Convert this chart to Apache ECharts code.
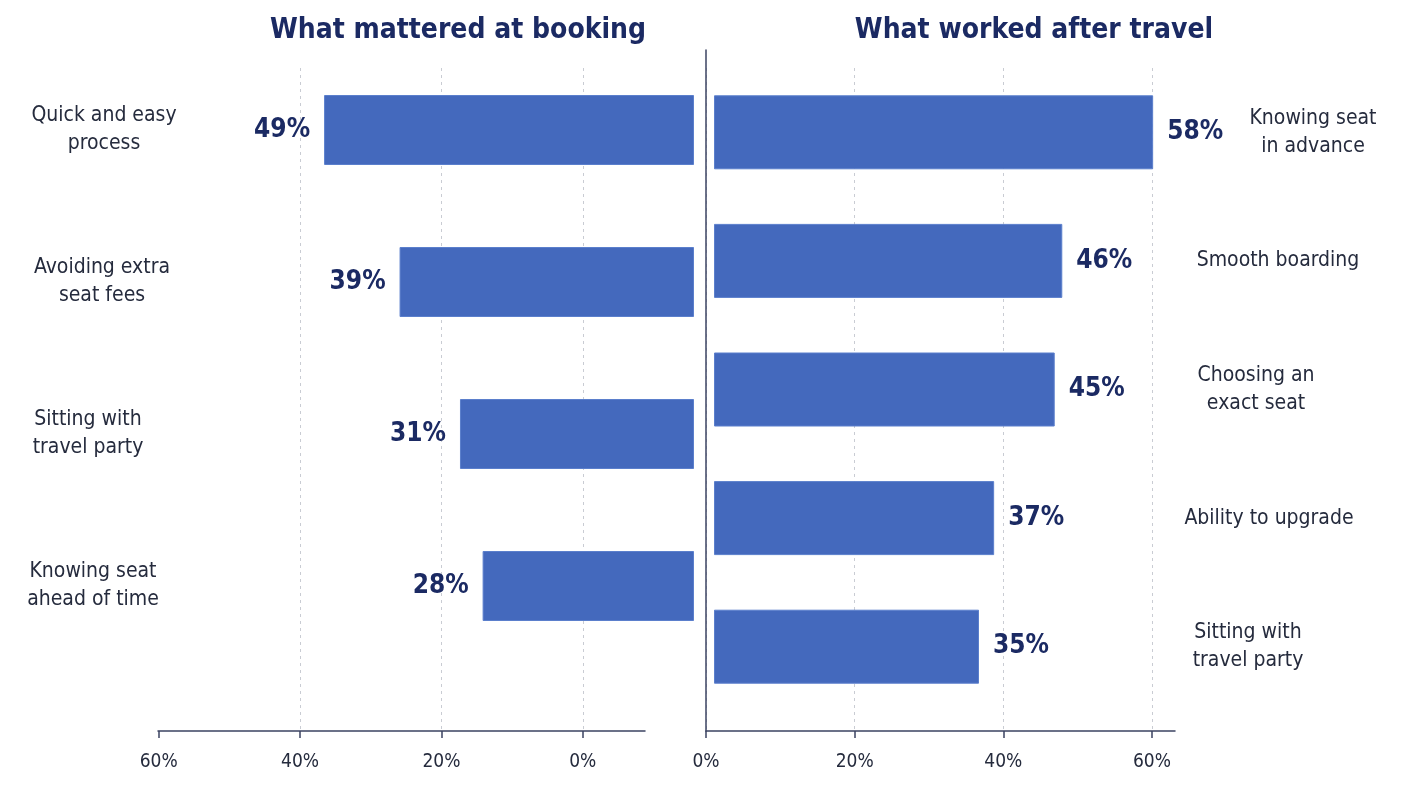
<!DOCTYPE html>
<html>
<head>
<meta charset="utf-8">
<title>Seat selection: booking vs after travel</title>
<script src="https://cdn.jsdelivr.net/npm/echarts@6/dist/echarts.min.js"></script>
<style>
    html, body { margin: 0; padding: 0; background: #fff; }
    #chart { width: 1404px; height: 800px; }
</style>
</head>
<body>
<div id="chart"></div>
<script>
// left panel: what mattered at booking
const bookingCategories = ['Quick and easy\nprocess', 'Avoiding extra\nseat fees', 'Sitting with\ntravel party', 'Knowing seat\nahead of time'];
const bookingValues = [49, 39, 31, 28];

// right panel: what worked after travel
const travelCategories = ['Knowing seat\nin advance', 'Smooth boarding', 'Choosing an\nexact seat', 'Ability to upgrade', 'Sitting with\ntravel party'];
const travelValues = [58, 46, 45, 37, 35];

const axisTicks = [0, 20, 40, 60];
const leftGridTicks = [0, 20, 40];   // left panel has no gridline at 60%

const barColor = '#4469bd';
const navy = '#1b2a63';
const textColor = '#252b3d';
const lineColor = '#3b4362';
const font = '"DejaVu Sans Condensed", "Liberation Sans", sans-serif';

// small horizontal nudges so each category label sits where it does in the source
const bookingNudge = [32, 28, 0, 10];
const travelNudge = [130, 60, 16, 42, 0];

function nudged(cats, nudge) {
    return cats.map((c, i) => ({
        value: c,
        textStyle: { align: 'center', padding: [0, 0, 0, nudge[i]] }
    }));
}

const chart = echarts.init(document.getElementById('chart'));

const valueLabel = (pos) => ({
    show: true,
    position: pos,
    distance: 14,
    formatter: '{c}%',
    color: navy,
    fontFamily: font,
    fontWeight: 'bold',
    fontSize: 26
});

const titleStyle = { color: navy, fontFamily: font, fontWeight: 'bold', fontSize: 28 };
const catLabel = { color: textColor, fontFamily: font, fontSize: 21, lineHeight: 28 };
const tickLabel = { customValues: axisTicks, formatter: '{value}%', color: textColor, fontFamily: font, fontSize: 19, margin: 22 };
const gridLine = { show: true, lineStyle: { color: '#c9ccd3', type: [3, 4], width: 1 } };
const axisStroke = { color: lineColor, width: 1.5 };

const option = {
    animation: false,
    backgroundColor: '#ffffff',
    title: [
        { text: 'What mattered at booking', left: 453, top: 12, textAlign: 'center', textStyle: titleStyle },
        { text: 'What worked after travel', left: 1029, top: 12, textAlign: 'center', textStyle: titleStyle }
    ],
    grid: [
        { left: 158, right: 710, top: 54, bottom: 138, outerBoundsMode: 'none' },   // left bars
        { left: 158, right: 759, top: 68, bottom: 69, outerBoundsMode: 'none' },    // left axis
        { left: 714, right: 213, top: 68, bottom: 89, outerBoundsMode: 'none' },    // right bars
        { left: 706, right: 229, top: 68, bottom: 69, outerBoundsMode: 'none' },    // right axis
        { left: 706, right: 229, top: 50, bottom: 69, outerBoundsMode: 'none' }     // centre divider
    ],
    xAxis: [
        { gridIndex: 0, type: 'value', inverse: true, min: 0, max: 71, show: false },
        {
            gridIndex: 1, type: 'value', inverse: true, min: -8.8, max: 60.1, position: 'bottom',
            axisLine: { show: true, lineStyle: axisStroke },
            axisTick: { show: true, customValues: axisTicks, length: 7, lineStyle: axisStroke },
            axisLabel: tickLabel,
            splitLine: { show: false }
        },
        {
            gridIndex: 1, type: 'value', inverse: true, min: -8.8, max: 60.1, position: 'bottom',
            axisLine: { show: false },
            axisTick: { show: false, customValues: leftGridTicks },
            axisLabel: { show: false },
            splitLine: gridLine
        },
        { gridIndex: 2, type: 'value', min: 0, max: 63, show: false },
        {
            gridIndex: 3, type: 'value', min: 0, max: 63.1,
            axisLine: { show: true, lineStyle: axisStroke },
            axisTick: { show: true, customValues: axisTicks, length: 7, lineStyle: axisStroke },
            axisLabel: tickLabel,
            splitLine: gridLine
        },
        { gridIndex: 4, type: 'value', min: 0, max: 63.1, show: false }
    ],
    yAxis: [
        {
            gridIndex: 0, type: 'category', inverse: true, data: nudged(bookingCategories, bookingNudge),
            axisLine: { show: false }, axisTick: { show: false },
            axisLabel: Object.assign({ align: 'center', margin: 70 }, catLabel)
        },
        { gridIndex: 1, type: 'value', show: false },
        {
            gridIndex: 2, type: 'category', inverse: true, position: 'right', data: nudged(travelCategories, travelNudge),
            axisLine: { show: false }, axisTick: { show: false },
            axisLabel: Object.assign({ align: 'center', margin: 57 }, catLabel)
        },
        { gridIndex: 3, type: 'value', show: false },
        {
            gridIndex: 4, type: 'value', splitLine: { show: false },
            axisLine: { show: true, lineStyle: axisStroke },
            axisTick: { show: false }, axisLabel: { show: false }
        }
    ],
    series: [
        {
            name: 'What mattered at booking',
            type: 'bar',
            xAxisIndex: 0, yAxisIndex: 0,
            barWidth: 70,
            itemStyle: { color: barColor, borderColor: '#5b7fcc', borderWidth: 1 },
            label: valueLabel('left'),
            data: bookingValues
        },
        {
            name: 'What worked after travel',
            type: 'bar',
            xAxisIndex: 3, yAxisIndex: 2,
            barWidth: 74,
            itemStyle: { color: barColor, borderColor: '#5b7fcc', borderWidth: 1 },
            label: valueLabel('right'),
            data: travelValues
        }
    ]
};

chart.setOption(option);
</script>
</body>
</html>
